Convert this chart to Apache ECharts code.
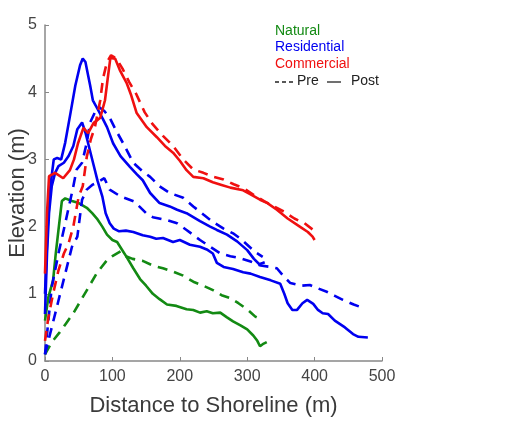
<!DOCTYPE html>
<html>
<head>
<meta charset="utf-8">
<script src="https://cdn.jsdelivr.net/npm/echarts@6/dist/echarts.min.js"></script>
<style>
  html, body { margin: 0; padding: 0; background: #fff; }
  #chart { width: 526px; height: 428px; }
</style>
</head>
<body>
<div id="chart"></div>
<script>
// profiles as [distance (m), elevation (m)]
const naturalPre = [[0,0.1],[10,0.28],[22,0.43],[32,0.57],[42,0.71],[56,0.95],[66,1.12],[77,1.31],[92,1.5],[100,1.56],[112,1.63],[120,1.56],[130,1.52],[145,1.49],[160,1.42],[175,1.38],[190,1.33],[205,1.27],[220,1.18],[235,1.12],[250,1.05],[262,0.98],[274,0.94],[287,0.86],[300,0.77],[312,0.66],[323,0.61]];
const naturalPost = [[0,0.6],[5,0.95],[12,1.2],[16,1.6],[20,1.95],[25,2.38],[30,2.42],[40,2.38],[50,2.35],[62,2.28],[70,2.2],[77,2.12],[85,2.0],[92,1.88],[100,1.8],[107,1.77],[114,1.66],[121,1.55],[131,1.38],[141,1.22],[150,1.12],[160,1.0],[170,0.92],[181,0.84],[195,0.82],[210,0.77],[220,0.76],[230,0.72],[240,0.74],[249,0.71],[260,0.72],[270,0.65],[279,0.59],[290,0.53],[300,0.47],[309,0.38],[315,0.3],[319,0.22],[323,0.25],[329,0.28]];

const residentialPre1 = [[0,0.1],[5,0.6],[10,1.1],[20,1.6],[30,2.05],[41,2.55],[47,2.85],[55,2.95],[62,3.25],[67,3.55],[74,3.7],[80,3.78],[88,3.72],[96,3.62],[106,3.42],[116,3.24],[131,2.95],[145,2.82],[156,2.74],[170,2.6],[185,2.5],[205,2.43],[220,2.3],[235,2.18],[249,2.07],[265,1.97],[279,1.9],[290,1.82],[300,1.73],[312,1.62],[323,1.55]];
const residentialPost1 = [[0,1.0],[4,2.0],[8,2.6],[13,3.0],[18,3.02],[24,3.0],[30,3.25],[38,3.7],[45,4.1],[52,4.4],[56,4.5],[60,4.45],[64,4.25],[67,4.1],[71,3.88],[78,3.75],[86,3.6],[92,3.48],[101,3.24],[112,3.05],[126,2.89],[136,2.78],[145,2.69],[156,2.5],[170,2.35],[185,2.3],[196,2.25],[210,2.2],[230,2.08],[245,2.0],[255,1.95],[270,1.88],[285,1.78],[300,1.65],[310,1.52],[318,1.44],[326,1.47]];
const residentialPre2 = [[0,0.1],[10,0.5],[20,0.9],[30,1.3],[40,1.7],[48,1.85],[55,2.4],[62,2.55],[70,2.62],[78,2.66],[88,2.72],[96,2.55],[112,2.45],[133,2.37],[150,2.2],[160,2.14],[180,2.1],[196,2.05],[210,1.95],[230,1.8],[245,1.7],[260,1.6],[275,1.56],[289,1.53],[305,1.48],[320,1.42],[335,1.4],[344,1.38],[355,1.25],[364,1.16],[380,1.12],[393,1.13],[405,1.08],[418,1.03],[430,0.97],[442,0.91],[458,0.84],[472,0.79]];
const residentialPost2 = [[0,0.7],[3,1.6],[6,2.2],[10,2.6],[15,2.8],[20,2.9],[28,2.95],[35,3.05],[42,3.2],[48,3.45],[55,3.55],[60,3.4],[65,3.2],[72,2.92],[78,2.68],[85,2.45],[90,2.2],[96,2.05],[102,1.97],[110,1.93],[120,1.94],[131,1.92],[145,1.87],[156,1.85],[165,1.82],[175,1.83],[190,1.77],[200,1.8],[215,1.73],[230,1.7],[240,1.66],[249,1.6],[255,1.46],[265,1.4],[279,1.37],[294,1.32],[305,1.3],[319,1.25],[335,1.2],[349,1.15],[355,1.0],[360,0.86],[367,0.76],[374,0.76],[382,0.86],[389,0.91],[398,0.85],[405,0.76],[412,0.71],[420,0.7],[430,0.6],[445,0.5],[457,0.4],[465,0.36],[479,0.35]];

const commercialPre = [[0,0.3],[5,0.65],[12,1.0],[20,1.35],[28,1.6],[35,1.75],[42,2.0],[50,2.45],[56,2.6],[62,3.04],[68,3.3],[74,3.48],[82,3.88],[86,4.2],[92,4.45],[98,4.55],[106,4.5],[115,4.35],[125,4.15],[135,3.98],[148,3.7],[160,3.52],[175,3.35],[190,3.2],[205,3.0],[220,2.85],[235,2.8],[250,2.74],[265,2.7],[280,2.63],[295,2.57],[310,2.47],[325,2.38],[340,2.3],[355,2.22],[370,2.12],[385,2.05],[398,1.95]];
const commercialPost = [[0,1.3],[3,2.2],[6,2.75],[15,2.8],[27,2.72],[37,2.84],[43,3.0],[49,3.24],[57,3.47],[64,3.39],[72,3.54],[82,3.62],[89,3.88],[93,4.2],[97,4.51],[104,4.5],[111,4.33],[121,4.14],[128,3.95],[136,3.69],[151,3.48],[166,3.33],[178,3.2],[190,3.1],[200,2.98],[210,2.84],[220,2.74],[235,2.72],[249,2.66],[262,2.62],[275,2.58],[294,2.54],[305,2.48],[319,2.4],[330,2.35],[344,2.25],[360,2.12],[378,2.0],[390,1.92],[397,1.85],[400,1.8]];

const legendNames = ['Natural', 'Residential', 'Commercial'];
const GREEN = '#138a13', BLUE = '#0000f0', RED = '#f01010';
const DASH = [10, 7];
const FONT = 'Liberation Sans, Arial, sans-serif';

function line(data, color, dashed) {
    return {
        type: 'line',
        data: data,
        symbol: 'none',
        silent: true,
        animation: false,
        lineStyle: {color: color, width: 2.6, type: dashed ? DASH : 'solid'}
    };
}

const chart = echarts.init(document.getElementById('chart'), null, {renderer: 'canvas'});
const axisText = {color: '#444', fontSize: 16, fontFamily: FONT};
const nameText = {color: '#3a3a3a', fontSize: 22, fontFamily: FONT};

chart.setOption({
    backgroundColor: '#fff',
    animation: false,
    grid: {left: 45, right: 144, top: 25, bottom: 67, containLabel: false, outerBoundsMode: 'none'},
    xAxis: {
        type: 'value', min: 0, max: 500, interval: 100,
        name: 'Distance to Shoreline (m)', nameLocation: 'middle', nameGap: 34,
        nameTextStyle: nameText,
        axisLine: {show: true, lineStyle: {color: '#888', width: 1.5}},
        axisTick: {show: true, inside: true, length: 4, lineStyle: {color: '#888'}},
        axisLabel: Object.assign({margin: 8}, axisText),
        splitLine: {show: false}
    },
    yAxis: {
        type: 'value', min: 0, max: 5, interval: 1,
        name: 'Elevation (m)', nameLocation: 'middle', nameGap: 16, nameMoveOverlap: false,
        nameTextStyle: nameText,
        axisLine: {show: true, lineStyle: {color: '#888', width: 1.5}},
        axisTick: {show: true, inside: true, length: 4, lineStyle: {color: '#888'}},
        axisLabel: Object.assign({margin: 8}, axisText),
        splitLine: {show: false}
    },
    series: [
        line(naturalPre, GREEN, true),
        line(naturalPost, GREEN, false),
        line(residentialPre1, BLUE, true),
        line(residentialPre2, BLUE, true),
        line(residentialPost1, BLUE, false),
        line(residentialPost2, BLUE, false),
        line(commercialPre, RED, true),
        line(commercialPost, RED, false)
    ],
    graphic: [
        {type: 'text', left: 275, top: 24, style: {text: legendNames[0], fill: GREEN, fontSize: 14, fontFamily: FONT}},
        {type: 'text', left: 275, top: 40, style: {text: legendNames[1], fill: BLUE, fontSize: 14, fontFamily: FONT}},
        {type: 'text', left: 275, top: 57, style: {text: legendNames[2], fill: RED, fontSize: 14, fontFamily: FONT}},
        {type: 'line', shape: {x1: 275, y1: 82, x2: 296, y2: 82}, style: {stroke: '#222', lineWidth: 1.3, lineDash: [4, 3]}},
        {type: 'text', left: 297, top: 74, style: {text: 'Pre', fill: '#222', fontSize: 14, fontFamily: FONT}},
        {type: 'line', shape: {x1: 327, y1: 82, x2: 341, y2: 82}, style: {stroke: '#222', lineWidth: 1.3}},
        {type: 'text', left: 351, top: 74, style: {text: 'Post', fill: '#222', fontSize: 14, fontFamily: FONT}}
    ]
});
</script>
</body>
</html>
